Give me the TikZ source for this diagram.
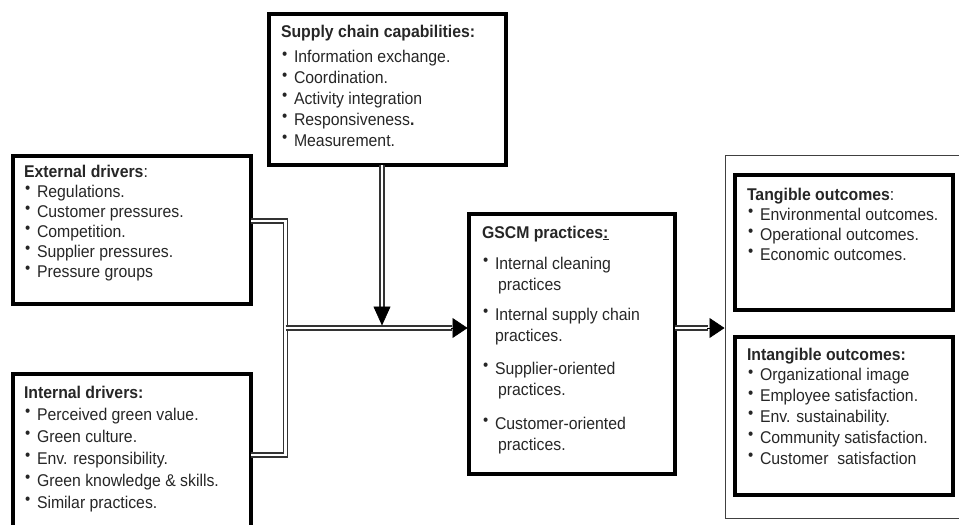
\documentclass[tikz,border=0pt]{standalone}
\usepackage{fontspec}
\setmainfont{Liberation Sans}[FakeStretch=0.93]
\usetikzlibrary{arrows.meta}
\newcommand\itm{\hspace*{1pt}\makebox[12pt][l]{\raisebox{3.5pt}{\fontsize{16}{16}\selectfont •}}}
\begin{document}
\begin{tikzpicture}[x=1pt,y=-1pt,
  box/.style={draw=black, line width=4pt, rectangle, inner sep=0pt, outer sep=0pt, anchor=north west},
  thinbox/.style={draw=black!75, line width=1pt, rectangle, inner sep=0pt, outer sep=0pt, anchor=north west},
  txt/.style={inner sep=0pt, outer sep=0pt, anchor=base west, text=black!85},
  dbl/.style={draw=black!80, line width=1.4pt, double=white, double distance=2.6pt},
  tiph/.style={draw=black, line width=0.6pt, -{Triangle[length=15pt,width=20pt]}},
  tipv/.style={draw=black, line width=0.6pt, -{Triangle[length=19pt,width=17pt]}}
]
\useasboundingbox (0,0) rectangle (959,525);
\clip (0,0) rectangle (959,525);

% boxes
\node[box, minimum width=238pt, minimum height=148pt] (ext) at (13,156) {};
\node[box, minimum width=238pt, minimum height=170pt] (int) at (13,374) {};
\node[box, minimum width=237pt, minimum height=151pt] (scc) at (269,14) {};
\node[box, minimum width=206pt, minimum height=260pt] (gscm) at (469,214) {};
\node[thinbox, minimum width=260pt, minimum height=363pt] (out) at (725.5,155.5) {};
\node[box, minimum width=218pt, minimum height=135pt] (tang) at (735,175) {};
\node[box, minimum width=218pt, minimum height=158pt] (intang) at (735,337) {};

% texts
\node[txt] (ext-t) at (24,177) {\parbox[t]{222pt}{\fontsize{17}{20}\selectfont
\textbf{External drivers}:\par
\itm Regulations.\par
\itm Customer pressures.\par
\itm Competition.\par
\itm Supplier pressures.\par
\itm Pressure groups}};

\node[txt] (int-t) at (24,398) {\parbox[t]{222pt}{\fontsize{17}{22}\selectfont
\textbf{Internal drivers:}\par
\itm Perceived green value.\par
\itm Green culture.\par
\itm Env. responsibility.\par
\itm Green knowledge \& skills.\par
\itm Similar practices.}};

\node[txt] (scc-t) at (281,37) {\parbox[t]{222pt}{\fontsize{17}{20.8}\selectfont
\textbf{Supply chain capabilities:}\par\vspace{5pt}
\itm Information exchange.\par
\itm Coordination.\par
\itm Activity integration\par
\itm Responsiveness\textbf{.}\par
\itm Measurement.}};

\node[txt] (gscm-t) at (482,238) {\parbox[t]{190pt}{\fontsize{17}{21}\selectfont
\textbf{GSCM practices\underline{:}}\par\vspace{10pt}
\itm Internal cleaning\par
\hspace*{16pt}practices\par\vspace{9pt}
\itm Internal supply chain\par
\hspace*{13pt}practices.\par\vspace{12pt}
\itm Supplier-oriented\par
\hspace*{16pt}practices.\par\vspace{13pt}
\itm Customer-oriented\par
\hspace*{16pt}practices.}};

\node[txt] (tang-t) at (747,200) {\parbox[t]{200pt}{\fontsize{17}{20}\selectfont
\textbf{Tangible outcomes}:\par
\itm Environmental outcomes.\par
\itm Operational outcomes.\par
\itm Economic outcomes.}};

\node[txt] (intang-t) at (747,360) {\parbox[t]{200pt}{\fontsize{17}{20.8}\selectfont
\textbf{Intangible outcomes:}\par
\itm Organizational image\par
\itm Employee satisfaction.\par
\itm Env. sustainability.\par
\itm Community satisfaction.\par
\itm Customer\ \ satisfaction}};

% junction coordinates
\coordinate (ja) at (285.5,221);
\coordinate (jb) at (285.5,455);
\coordinate (jm) at (285.5,328);
\coordinate (jv) at (382,328);
\coordinate (sccs) at (382,165);
\coordinate (ta) at (382,309);
\coordinate (tb) at (452,328);
\coordinate (tc) at (708,328);

% connectors
\draw[dbl] ([yshift=9pt]ext.east) -- (ja) -- (jb) -- (int.east |- jb);
\draw[dbl] (jm) -- (tb);
\draw[tiph] ([xshift=-1pt]tb) -- ([xshift=-1.5pt]gscm.west |- jm);
\draw[dbl] (sccs) -- (ta);
\draw[tipv] ([yshift=1pt]ta) -- ([yshift=2.5pt]jv);
\draw[dbl] (gscm.east |- jm) -- (tc);
\draw[tiph] ([xshift=-1pt]tc) -- ([xshift=-1pt]out.west |- jm);
\end{tikzpicture}
\end{document}
